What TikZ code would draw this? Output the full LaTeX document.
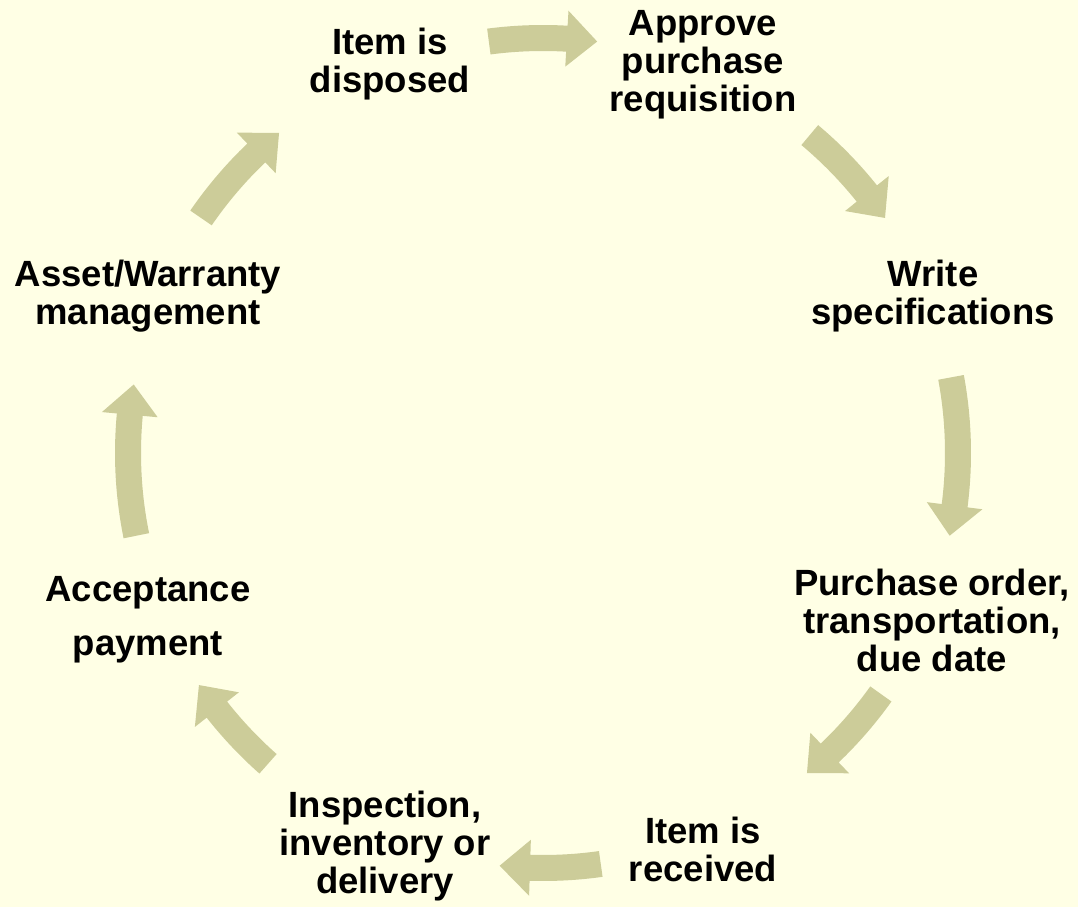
\documentclass[tikz,border=0pt]{standalone}
\usepackage{fontspec}
\setmainfont{Liberation Sans}
\usetikzlibrary{calc}
\definecolor{bgcol}{RGB}{255,255,229}
\definecolor{arrcol}{RGB}{204,204,153}
\tikzset{
  arrowfill/.style={fill=arrcol},
  lbl/.style={align=center, font=\fontsize{36.5}{38}\selectfont\bfseries, inner sep=0pt}
}
\newcommand\blockarc[2]{%
  \pgfmathsetmacro\hb{#2-sign(#2-#1)*4.2}%
  \fill[arrowfill] ($(C)+(#1:402pt)$) arc[start angle=#1,end angle=\hb,radius=402pt]
    -- ($(C)+(\hb:387pt)$) -- ($(C)+(#2:415pt)$) -- ($(C)+(\hb:443pt)$)
    -- ($(C)+(\hb:428pt)$) arc[start angle=\hb,end angle=#1,radius=428pt] -- cycle;}
\begin{document}
\begin{tikzpicture}
\fill[bgcol] (0,0) rectangle (1078pt,907pt);
\useasboundingbox (0,0) rectangle (1078pt,907pt);
\coordinate (C) at (543pt,454pt);
\blockarc{97.5}{82.5}
\blockarc{50}{34.5}
\blockarc{10.5}{-11.5}
\blockarc{-35.5}{-50.5}
\blockarc{-82}{-96}
\blockarc{-131.5}{-146}
\blockarc{191.5}{170.5}
\blockarc{145.5}{129.5}
\node[lbl] (disp) at (390pt,907pt-64pt) {Item is\\disposed};
\node[lbl] (appr) at (703pt,907pt-65pt) {Approve\\purchase\\requisition};
\node[lbl] (spec) at (933pt,907pt-296pt) {Write\\specifications};
\node[lbl] (po) at (932pt,907pt-620pt) {Purchase order,\\transportation,\\due date};
\node[lbl] (recv) at (703pt,907pt-849pt) {Item is\\received};
\node[lbl] (insp) at (385pt,907pt-846pt) {Inspection,\\inventory or\\delivery};
\node[lbl] (acc) at (148pt,907pt-620pt) {Acceptance\\[16pt]payment};
\node[lbl] (asset) at (148pt,907pt-296pt) {Asset/Warranty\\management};
\end{tikzpicture}
\end{document}
